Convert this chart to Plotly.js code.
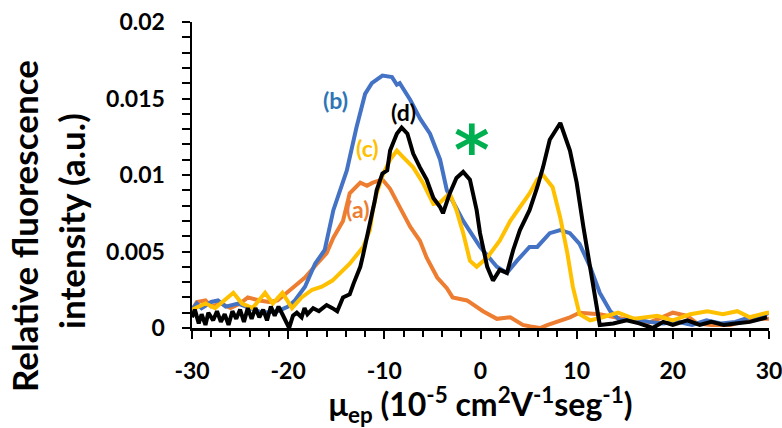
<!DOCTYPE html>
<html>
<head>
<meta charset="utf-8">
<script src="https://cdn.plot.ly/plotly-3.0.1.min.js"></script>
<style>html,body{margin:0;padding:0;background:#fff;}#chart{width:782px;height:428px;}</style>
</head>
<body>
<div id="chart"></div>
<script>
// (a) orange
const xA = [-30,-29.5,-28.6,-28,-27,-26,-25,-24.2,-23,-22,-21.1,-19.6,-18.25,-17,-16,-15.3,-14.3,-13.6,-12.5,-11.8,-11.2,-10.2,-9.4,-8.4,-7.3,-6.3,-5.6,-4.5,-3.5,-2.9,-1.4,0.26,1.7,3.1,4.4,5.2,6.2,7,7.95,9.3,10.3,12.4,14,15.5,17.3,18.5,20,21.5,22.5,24,26,27.7,29,30];
const yA = [0.0012,0.0017,0.0018,0.0014,0.0016,0.0013,0.0016,0.002,0.0018,0.0017,0.0018,0.0026,0.0033,0.0042,0.0049,0.0059,0.007,0.0088,0.0095,0.0093,0.0095,0.0097,0.0091,0.0079,0.0066,0.0057,0.0046,0.0033,0.0026,0.002,0.0018,0.0011,0.0006,0.0007,0.0002,0.0001,0.0,0.0002,0.0004,0.0007,0.001,0.0009,0.0007,0.0005,0.0003,0.0006,0.001,0.0008,0.0003,0.0002,0.0002,0.0005,0.0006,0.0006];
// (b) blue
const xB = [-30,-29.5,-29,-28,-27.3,-26.5,-25.2,-24,-22.7,-21.1,-20,-19.3,-18.25,-17.2,-16.2,-15.3,-13.9,-12.9,-12,-11.3,-10.2,-9.2,-8.7,-8.4,-7.3,-6.3,-5.25,-4.2,-3.5,-1.8,-0.05,1.7,2.75,3.8,5.1,5.9,7.2,8.3,9.3,10.3,11.4,12.4,13.5,14.5,16,17.5,19,20.5,22,23.5,25,26.5,28,29.3,30];
const yB = [0.0012,0.0016,0.0013,0.0017,0.0018,0.0014,0.0016,0.0013,0.001,0.0011,0.0014,0.0018,0.0027,0.0042,0.0051,0.0077,0.0103,0.0131,0.0153,0.016,0.0165,0.0164,0.0159,0.016,0.0149,0.0137,0.0127,0.011,0.009,0.007,0.0053,0.004,0.0036,0.0044,0.0053,0.0053,0.0062,0.0064,0.0062,0.0055,0.004,0.0023,0.0011,0.0005,0.0006,0.0004,0.0003,0.0004,0.0002,0.0005,0.0003,0.0004,0.0007,0.0008,0.001];
// (c) gold
const xC = [-30,-29.7,-28.6,-27.6,-26.6,-25.7,-24.8,-23.7,-22.4,-21.6,-20.6,-19.6,-18.6,-17.5,-16.5,-15.4,-13.6,-12.2,-11.5,-11.2,-10.8,-10.1,-9.4,-8.7,-8.1,-7,-6,-4.9,-4.2,-3.2,-2.5,-1.8,-1.1,-0.4,0.7,2,3.1,4.1,5.1,5.9,6.5,7.5,8.3,9,9.6,10.3,11.4,12.7,14.3,16,18.4,20,21.8,23.6,25.2,26.7,28,29.8,30];
const yC = [0.0012,0.0013,0.0016,0.0013,0.0018,0.0023,0.0016,0.0013,0.0023,0.0016,0.0023,0.0013,0.002,0.0025,0.0027,0.0031,0.0042,0.0053,0.0064,0.0077,0.0088,0.0101,0.011,0.0116,0.0112,0.0105,0.0095,0.0081,0.0082,0.0088,0.0077,0.0062,0.0044,0.004,0.0046,0.0057,0.007,0.0079,0.0088,0.0097,0.01,0.0092,0.0072,0.005,0.0027,0.0009,0.0005,0.0007,0.001,0.0006,0.0008,0.0005,0.0009,0.0011,0.0009,0.0011,0.0007,0.001,0.001];
// (d) black
const xD = [-30,-29.7,-29.3,-29,-28.6,-28.3,-27.8,-27.4,-27,-26.6,-26.2,-25.8,-25.4,-25,-24.6,-24.2,-23.8,-23.4,-23,-22.6,-22.2,-21.8,-21.4,-21,-20.6,-20.2,-19.9,-19.5,-19.1,-18.6,-18.3,-18,-17.4,-16.8,-16,-15.4,-14.9,-14.3,-13.6,-13.2,-12.5,-12.2,-11.8,-11.5,-11,-10.8,-10.2,-9.7,-9.4,-8.7,-8.2,-7.6,-7,-6.3,-5.6,-4.9,-4.2,-3.9,-3.2,-2.5,-1.8,-1.1,-0.4,-0.05,0.7,1.3,2,2.75,3.4,4.1,5.1,5.9,6.5,7.2,8.3,9.3,10,10.7,11.4,12.1,12.4,13.8,15.2,16.5,17.9,19,20,21.5,22.8,24,25.3,26.5,28,29.8];
const yD = [0.0007,0.0012,0.0003,0.0009,0.0002,0.001,0.0005,0.0011,0.0004,0.0009,0.0002,0.0011,0.0006,0.0012,0.0004,0.0013,0.0006,0.0013,0.0007,0.0012,0.0005,0.0014,0.0008,0.0014,0.0009,0.0004,0.0,0.0008,0.001,0.0007,0.0013,0.0009,0.0013,0.0011,0.0015,0.0013,0.0011,0.002,0.0022,0.0029,0.004,0.0048,0.0059,0.007,0.0083,0.009,0.0101,0.0103,0.0116,0.0127,0.0131,0.0127,0.0114,0.0105,0.0097,0.0085,0.0079,0.0075,0.0088,0.0098,0.0102,0.0097,0.0077,0.0062,0.004,0.0031,0.0038,0.0036,0.0051,0.0064,0.0077,0.0092,0.0105,0.0123,0.0134,0.0116,0.0095,0.0066,0.004,0.0013,0.0002,0.0003,0.0005,0.0003,0.0,0.0004,0.0002,0.0005,0.0002,0.0004,0.0002,0.0003,0.0004,0.0007];

const xTickVals = [-30,-20,-10,0,10,20,30];
const xTickText = ['-30','-20','-10','0','10','20','30'];
const yTickVals = [0,0.005,0.01,0.015,0.02];
const yTickText = ['0','0.005','0.01','0.015','0.02'];
const yTitleLines = ['Relative fluorescence','intensity (a.u.)'];

const labels = ['(a)','(b)','(c)','(d)','*'];
const labelX = [-12.74,-15.03,-11.7,-7.96,-0.9];
const labelY = [0.00776,0.0149,0.01175,0.0141,0.0125];

const cA='#ED7D31', cB='#4472C4', cC='#FFC000', cD='#000000', cStar='#00B050';
const labelColors=['#ED7D31','#2E75B6','#FFC000','#000000',cStar];
const FONT = 'Lato, "Open Sans", sans-serif';

function tr(x,y,c){return {x:x,y:y,type:'scatter',mode:'lines',line:{color:c,width:4},hoverinfo:'skip',showlegend:false};}
const data=[tr(xA,yA,cA),tr(xB,yB,cB),tr(xC,yC,cC),tr(xD,yD,cD)];

const ann = labels.map((t,i)=>({
  x:labelX[i], y:labelY[i], xref:'x', yref:'y', text:'<b>'+t+'</b>', showarrow:false,
  font:{family: i===4 ? '"DejaVu Sans", sans-serif' : FONT, size: i===4?68:23, color:labelColors[i]},
  yshift: i===4 ? -14 : 0
}));
// y-axis title, two lines placed as in the reference
ann.push({xref:'paper',yref:'paper',x:-0.2912,y:0.333,xanchor:'center',yanchor:'middle',textangle:-90,showarrow:false,
  text:'<b>'+yTitleLines[0]+'</b>',font:{family:FONT,size:35,color:'#000'}});
ann.push({xref:'paper',yref:'paper',x:-0.2097,y:0.3497,xanchor:'center',yanchor:'middle',textangle:-90,showarrow:false,
  text:'<b>'+yTitleLines[1]+'</b>',font:{family:FONT,size:35,color:'#000'}});

const layout={
  width:782,height:428,
  margin:{l:192,r:13,t:22,b:100},
  paper_bgcolor:'#fff',plot_bgcolor:'#fff',
  font:{family:FONT,color:'#000'},
  xaxis:{range:[-30,30],tickmode:'array',tickvals:xTickVals,ticktext:xTickText,showgrid:false,zeroline:false,showline:true,linecolor:'#000',linewidth:2.5,
    ticks:'outside',ticklen:8,tickwidth:2,tickcolor:'#000',ticklabelstandoff:13,ticklabeloverflow:'allow',
    tickfont:{family:FONT,size:23,color:'#000',weight:'bold'},
    minor:{dtick:2,ticks:'outside',ticklen:6,tickwidth:2,tickcolor:'#000',showgrid:false},
    title:{text:'<b>μ<sub>ep</sub> (10<sup>-5</sup> cm<sup>2</sup>V<sup>-1</sup>seg<sup>-1</sup>)</b>',font:{family:FONT,size:32,color:'#000'},standoff:10}},
  yaxis:{range:[0,0.02],tickmode:'array',tickvals:yTickVals,ticktext:yTickText,showgrid:false,zeroline:false,showline:true,linecolor:'#000',linewidth:2.5,
    ticks:'outside',ticklen:8,tickwidth:2,tickcolor:'#000',ticklabelstandoff:12,ticklabeloverflow:'allow',
    tickfont:{family:FONT,size:23,color:'#000',weight:'bold'},
    minor:{dtick:0.001,ticks:'outside',ticklen:8,tickwidth:2,tickcolor:'#000',showgrid:false}},
  annotations:ann
};
Plotly.newPlot('chart',data,layout,{displayModeBar:false,staticPlot:true});
</script>
</body>
</html>
